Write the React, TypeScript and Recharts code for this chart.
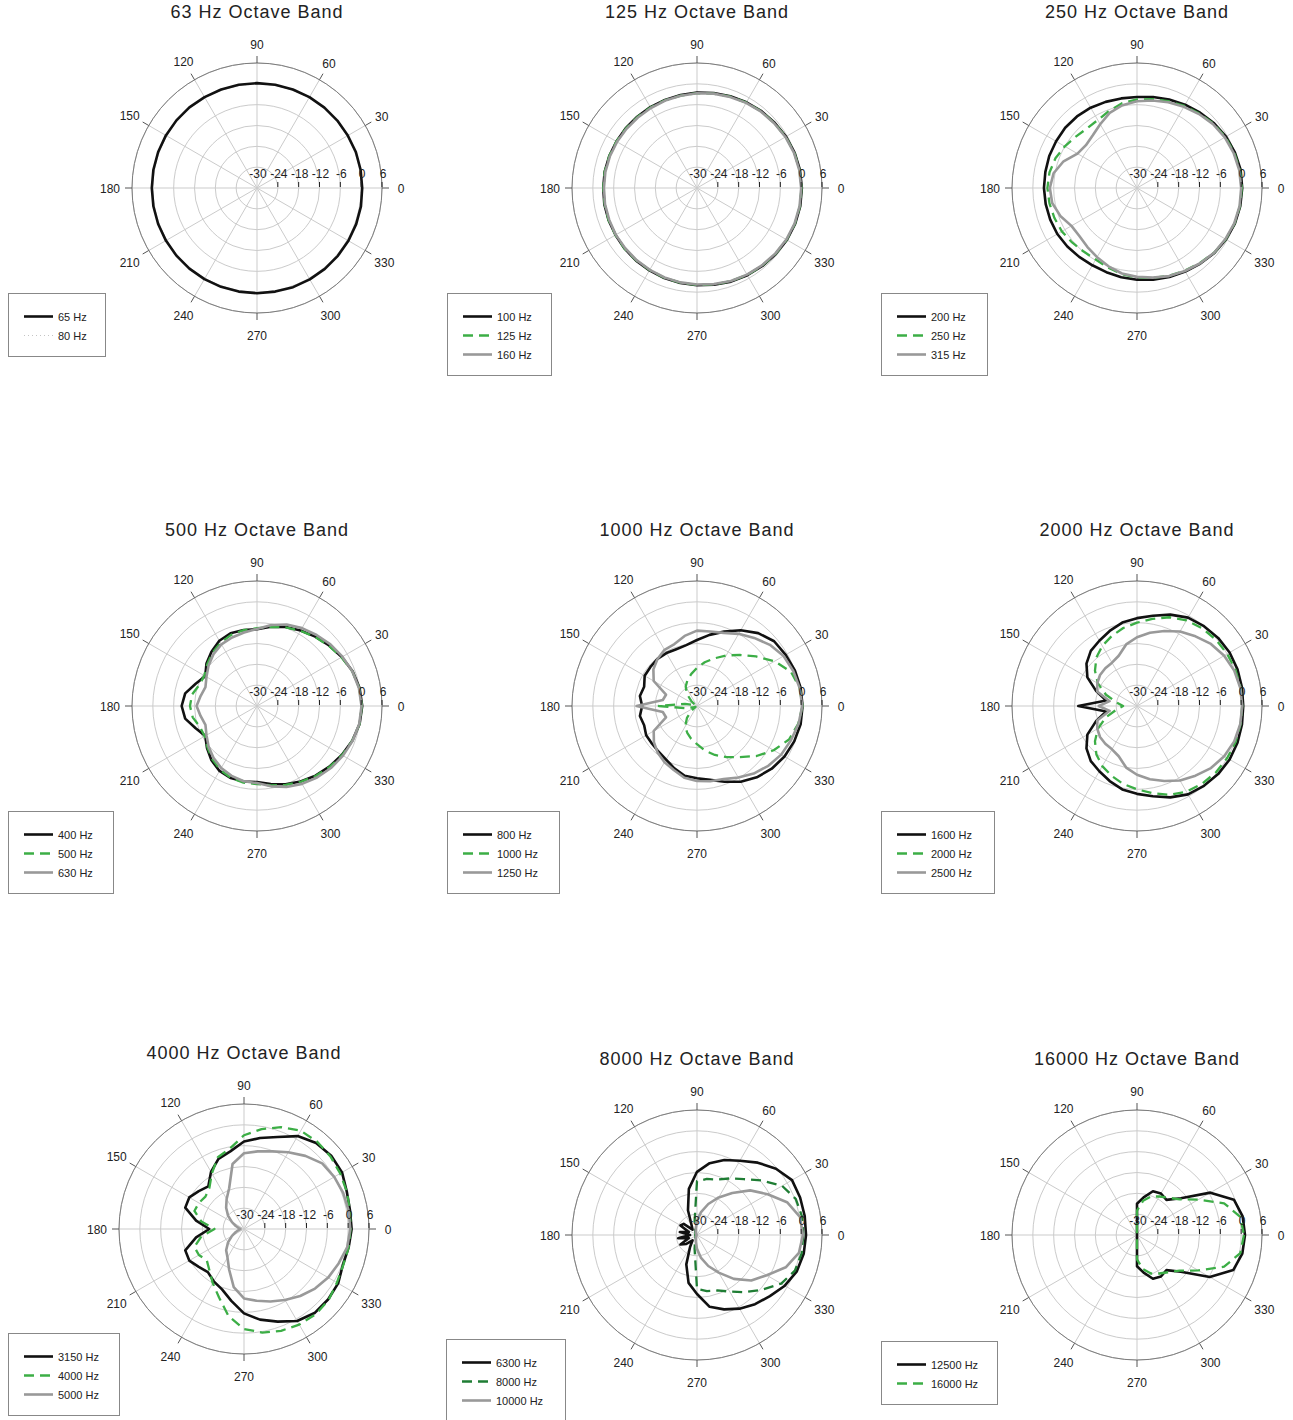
import React from 'react';
import { RadarChart, PolarGrid, PolarAngleAxis, PolarRadiusAxis, Radar } from 'recharts';

// measurement angles (deg), spokes and dB rings
const ANGLES = [
  0, 10, 20, 30, 40, 50, 60, 70, 80, 90, 100, 110,
  120, 130, 140, 150, 160, 170, 180, 190, 200, 210, 220, 230,
  240, 250, 260, 270, 280, 290, 300, 310, 320, 330, 340, 350,
];
const SPOKES = [0, 30, 60, 90, 120, 150, 180, 210, 240, 270, 300, 330];
const DB_TICKS = [-30, -24, -18, -12, -6, 0, 6];

// levels in dB, one value per entry of ANGLES
const HZ_65 = [
  0.3, 0.3, 0.3, 0.2, 0.2, 0.2, 0.2, 0.2, 0.2, 0.2, 0.2, 0.2,
  0.2, 0.3, 0.3, 0.3, 0.3, 0.3, 0.3, 0.3, 0.3, 0.3, 0.3, 0.3,
  0.3, 0.3, 0.3, 0.3, 0.3, 0.4, 0.4, 0.4, 0.4, 0.4, 0.4, 0.4,
];
const HZ_80 = [
  0.1, 0.1, 0.1, 0.0, 0.0, 0.0, 0.0, 0.0, 0.0, 0.0, 0.0, 0.0,
  0.0, 0.1, 0.1, 0.1, 0.1, 0.1, 0.1, 0.1, 0.1, 0.1, 0.1, 0.1,
  0.1, 0.1, 0.1, 0.1, 0.1, 0.2, 0.2, 0.2, 0.2, 0.2, 0.2, 0.2,
];
const HZ_100 = [
  0.2, 0.1, -0.1, -0.4, -0.8, -1.1, -1.5, -1.9, -2.2, -2.5, -2.8, -3.0,
  -3.1, -3.2, -3.2, -3.2, -3.1, -3.0, -3.0, -2.9, -2.9, -2.9, -2.8, -2.7,
  -2.6, -2.4, -2.2, -2.0, -1.7, -1.3, -1.0, -0.7, -0.4, -0.1, 0.1, 0.2,
];
const HZ_125 = [
  0.1, 0.0, -0.2, -0.5, -0.9, -1.2, -1.6, -2.0, -2.4, -2.7, -3.0, -3.1,
  -3.2, -3.3, -3.3, -3.2, -3.1, -3.0, -3.0, -3.0, -2.9, -2.9, -2.8, -2.8,
  -2.7, -2.5, -2.3, -2.1, -1.8, -1.5, -1.1, -0.8, -0.5, -0.2, 0.0, 0.1,
];
const HZ_160 = [
  0.0, -0.1, -0.3, -0.6, -1.0, -1.3, -1.7, -2.1, -2.4, -2.7, -3.0, -3.2,
  -3.4, -3.5, -3.5, -3.4, -3.3, -3.2, -3.2, -3.1, -3.1, -3.0, -3.0, -2.9,
  -2.8, -2.6, -2.4, -2.2, -1.9, -1.5, -1.2, -0.9, -0.6, -0.3, -0.1, 0.0,
];
const HZ_200 = [
  0.3, 0.3, 0.0, -0.4, -1.0, -1.7, -2.3, -2.9, -3.4, -3.8, -3.8, -3.6,
  -3.3, -3.1, -3.0, -3.1, -3.1, -3.2, -3.2, -3.3, -3.4, -3.5, -3.8, -4.1,
  -4.3, -4.2, -3.9, -3.6, -3.2, -2.7, -2.2, -1.6, -0.9, -0.4, 0.0, 0.2,
];
const HZ_250 = [
  0.2, 0.1, -0.2, -0.6, -1.2, -2.0, -2.7, -3.4, -4.0, -4.5, -5.2, -6.4,
  -7.4, -7.6, -7.0, -6.0, -5.0, -4.4, -4.2, -4.4, -4.7, -5.0, -5.6, -6.1,
  -6.2, -5.6, -4.8, -4.2, -3.7, -3.1, -2.5, -1.8, -1.0, -0.5, -0.1, 0.1,
];
const HZ_315 = [
  0.0, -0.1, -0.4, -0.8, -1.4, -2.2, -3.0, -3.7, -4.4, -5.0, -5.8, -7.0,
  -8.8, -10.2, -10.8, -10.2, -7.5, -5.6, -4.9, -5.2, -6.5, -8.2, -8.4, -7.8,
  -7.0, -6.0, -5.0, -4.4, -3.8, -3.0, -2.4, -1.7, -1.0, -0.6, -0.2, 0.0,
];
const HZ_400 = [
  0.3, 0.0, -0.7, -1.8, -2.9, -3.9, -4.9, -5.8, -6.8, -7.9, -7.8, -7.7,
  -8.3, -9.6, -11.0, -12.8, -11.2, -9.0, -8.3, -9.0, -11.2, -12.8, -11.2, -9.6,
  -8.4, -7.9, -7.9, -8.1, -7.2, -6.0, -4.9, -3.8, -2.8, -1.8, -0.8, 0.0,
];
const HZ_500 = [
  0.2, -0.1, -0.8, -1.9, -3.0, -4.0, -5.0, -5.9, -6.9, -7.6, -7.8, -8.2,
  -9.0, -10.0, -11.3, -12.5, -12.3, -11.0, -10.7, -11.2, -12.5, -12.6, -11.4, -10.0,
  -8.8, -8.0, -7.6, -7.5, -6.8, -5.8, -4.8, -3.7, -2.7, -1.7, -0.8, 0.0,
];
const HZ_630 = [
  0.1, -0.2, -0.8, -1.6, -2.4, -3.3, -4.1, -5.0, -6.3, -7.8, -8.5, -9.0,
  -9.5, -10.5, -11.8, -13.2, -14.2, -13.5, -12.6, -13.5, -14.2, -13.2, -11.8, -10.5,
  -9.4, -8.6, -8.0, -7.8, -6.5, -5.2, -4.1, -3.1, -2.2, -1.4, -0.7, -0.1,
];
const HZ_800 = [
  0.4, 0.3, 0.0, -0.5, -1.0, -2.6, -4.8, -7.2, -9.2, -11.0, -12.2, -12.6,
  -12.4, -12.3, -12.5, -12.6, -13.8, -13.3, -14.2, -13.3, -13.8, -13.1, -13.1, -12.8,
  -12.2, -10.9, -9.6, -9.2, -8.4, -6.8, -4.8, -3.2, -1.9, -0.9, -0.2, 0.3,
];
const HZ_1000 = [
  0.4, 0.0, -1.2, -4.2, -7.8, -10.8, -13.2, -15.4, -17.2, -19.0, -20.6, -22.0,
  -23.5, -25.5, -28.0, -29.5, -29.0, -26.5, -19.0, -26.5, -29.0, -29.5, -28.0, -25.5,
  -23.2, -21.8, -20.4, -19.0, -17.0, -15.0, -13.0, -10.8, -7.6, -4.5, -1.8, -0.4,
];
const HZ_1250 = [
  0.3, 0.0, -0.5, -1.2, -2.6, -4.4, -6.0, -7.6, -8.2, -8.3, -9.5, -11.0,
  -11.3, -12.3, -13.6, -15.6, -20.5, -20.0, -12.6, -20.0, -20.5, -15.6, -13.8, -12.4,
  -11.3, -10.4, -9.0, -8.4, -8.0, -7.6, -6.2, -4.6, -3.2, -2.0, -1.2, -0.3,
];
const HZ_1600 = [
  0.6, 0.7, 0.8, 0.8, 0.5, 0.0, -0.6, -2.0, -3.6, -4.7, -5.6, -7.0,
  -8.3, -9.3, -11.0, -13.5, -17.5, -21.0, -13.1, -21.0, -17.5, -13.5, -11.0, -9.3,
  -8.3, -7.0, -5.6, -4.7, -3.6, -2.0, -0.6, 0.0, 0.5, 0.8, 0.8, 0.7,
];
const HZ_2000 = [
  0.3, 0.3, 0.2, 0.0, -0.3, -0.8, -1.5, -2.8, -4.5, -6.0, -7.2, -8.6,
  -10.0, -11.8, -14.2, -17.0, -20.5, -24.0, -26.0, -24.0, -20.5, -17.0, -14.2, -11.8,
  -10.0, -8.6, -7.2, -6.0, -4.5, -2.8, -1.5, -0.8, -0.3, 0.0, 0.2, 0.3,
];
const HZ_2500 = [
  0.3, 0.2, -0.2, -1.0, -2.2, -3.8, -5.2, -7.0, -8.6, -10.2, -12.0, -14.6,
  -15.6, -15.8, -16.1, -16.8, -17.8, -22.0, -19.0, -22.0, -17.8, -16.8, -16.1, -15.8,
  -15.6, -14.6, -12.0, -10.2, -8.6, -7.0, -5.2, -3.8, -2.2, -1.0, -0.2, 0.2,
];
const HZ_3150 = [
  1.0, 1.0, 1.5, 2.6, 2.8, 2.3, 0.9, -1.8, -3.4, -4.8, -7.3, -8.5,
  -11.0, -14.0, -13.0, -11.8, -12.0, -16.0, -20.0, -16.0, -12.0, -11.8, -13.0, -13.8,
  -12.6, -11.5, -9.0, -5.7, -3.5, -1.6, 0.6, 1.6, 1.6, 1.3, 0.3, 0.6,
];
const HZ_4000 = [
  0.7, 1.0, 1.5, 2.0, 2.5, 2.8, 2.7, 1.2, -0.8, -3.0, -6.5, -8.0,
  -11.5, -14.5, -15.5, -15.0, -14.8, -17.5, -21.5, -17.5, -14.8, -15.0, -16.0, -14.5,
  -12.0, -9.0, -4.5, -1.2, 0.3, 1.2, 1.8, 2.1, 1.8, 0.9, 0.4, 0.6,
];
const HZ_5000 = [
  0.6, 0.6, 0.4, 0.0, -0.6, -2.5, -4.5, -6.2, -7.3, -8.2, -11.0, -17.5,
  -20.0, -22.0, -24.0, -26.0, -27.5, -28.5, -29.0, -28.5, -27.5, -26.0, -24.0, -22.0,
  -20.5, -17.5, -13.0, -10.0, -9.0, -7.8, -6.4, -4.8, -3.3, -2.0, -1.0, 0.2,
];
const HZ_6300 = [
  1.4, 1.5, 1.6, 1.6, -0.3, -2.8, -5.3, -7.0, -9.0, -11.8, -16.5, -22.4,
  -27.0, -28.0, -25.0, -24.5, -27.5, -25.0, -28.0, -24.5, -27.5, -24.5, -26.0, -28.0,
  -26.0, -21.0, -16.0, -13.0, -9.0, -7.2, -5.5, -4.0, -2.6, -0.8, 0.6, 1.2,
];
const HZ_8000 = [
  0.6, 0.7, 0.3, -1.7, -5.6, -9.0, -11.2, -13.0, -13.6, -14.5, -26.0, -28.5,
  -29.0, -29.3, -29.5, -29.5, -29.5, -29.5, -29.5, -29.5, -29.5, -29.5, -29.5, -29.3,
  -29.0, -28.5, -26.0, -14.5, -13.6, -13.0, -11.2, -8.5, -5.5, -2.0, 0.0, 0.6,
];
const HZ_10000 = [
  0.5, 0.1, -2.4, -6.5, -10.0, -14.2, -17.5, -20.5, -23.3, -26.0, -28.0, -29.0,
  -29.5, -29.8, -29.8, -29.8, -29.8, -29.8, -29.8, -29.8, -29.8, -29.8, -29.8, -29.8,
  -29.5, -29.0, -28.0, -26.0, -23.3, -20.5, -17.5, -13.5, -9.6, -6.8, -2.8, -0.2,
];
const HZ_12500 = [
  1.1, 0.9, -0.3, -5.6, -13.5, -16.8, -16.2, -16.6, -19.0, -21.0, -30.0, -30.0,
  -30.0, -30.0, -30.0, -30.0, -30.0, -30.0, -30.0, -30.0, -30.0, -30.0, -30.0, -30.0,
  -30.0, -30.0, -30.0, -21.0, -19.0, -16.6, -16.2, -16.8, -13.5, -5.8, -0.5, 0.8,
];
const HZ_16000 = [
  0.8, 0.2, -3.3, -9.6, -14.0, -16.0, -17.2, -18.2, -20.0, -23.0, -30.0, -30.0,
  -30.0, -30.0, -30.0, -30.0, -30.0, -30.0, -30.0, -30.0, -30.0, -30.0, -30.0, -30.0,
  -30.0, -30.0, -30.0, -23.0, -20.0, -18.2, -17.2, -16.0, -14.0, -9.6, -3.3, 0.2,
];

const FONT = '"Liberation Sans", Arial, sans-serif';
const OUTER_R = 125;

type LineStyle = { color: string; width: number; dash?: string; under?: boolean };
const BLACK: LineStyle = { color: '#111111', width: 2.6 };
const GREEN: LineStyle = { color: '#3cae46', width: 2.3, dash: '10 6' };
const DARK_GREEN: LineStyle = { color: '#1f7d34', width: 2.3, dash: '10 6' };
const GRAY: LineStyle = { color: '#999999', width: 2.6 };
const DOTTED: LineStyle = { color: '#c4c4c4', width: 1, dash: '1 3', under: true };

type Series = { name: string; values: number[]; style: LineStyle };
type Panel = {
  title: string;
  left: number;
  top: number;
  width: number;
  height: number;
  cx: number;
  cy: number;
  legend: { left: number; top: number; width: number };
  series: Series[];
};

const PANELS: Panel[] = [
  {
    title: '63 Hz Octave Band', left: 0, top: 0, width: 440, height: 400, cx: 257, cy: 188,
    legend: { left: 8, top: 293, width: 98 },
    series: [
      { name: '65 Hz', values: HZ_65, style: BLACK },
      { name: '80 Hz', values: HZ_80, style: DOTTED },
    ],
  },
  {
    title: '125 Hz Octave Band', left: 440, top: 0, width: 440, height: 400, cx: 257, cy: 188,
    legend: { left: 7, top: 293, width: 105 },
    series: [
      { name: '100 Hz', values: HZ_100, style: BLACK },
      { name: '125 Hz', values: HZ_125, style: GREEN },
      { name: '160 Hz', values: HZ_160, style: GRAY },
    ],
  },
  {
    title: '250 Hz Octave Band', left: 880, top: 0, width: 413, height: 400, cx: 257, cy: 188,
    legend: { left: 1, top: 293, width: 107 },
    series: [
      { name: '200 Hz', values: HZ_200, style: BLACK },
      { name: '250 Hz', values: HZ_250, style: GREEN },
      { name: '315 Hz', values: HZ_315, style: GRAY },
    ],
  },
  {
    title: '500 Hz Octave Band', left: 0, top: 518, width: 440, height: 400, cx: 257, cy: 188,
    legend: { left: 8, top: 293, width: 106 },
    series: [
      { name: '400 Hz', values: HZ_400, style: BLACK },
      { name: '500 Hz', values: HZ_500, style: GREEN },
      { name: '630 Hz', values: HZ_630, style: GRAY },
    ],
  },
  {
    title: '1000 Hz Octave Band', left: 440, top: 518, width: 440, height: 400, cx: 257, cy: 188,
    legend: { left: 7, top: 293, width: 113 },
    series: [
      { name: '800 Hz', values: HZ_800, style: BLACK },
      { name: '1000 Hz', values: HZ_1000, style: GREEN },
      { name: '1250 Hz', values: HZ_1250, style: GRAY },
    ],
  },
  {
    title: '2000 Hz Octave Band', left: 880, top: 518, width: 413, height: 400, cx: 257, cy: 188,
    legend: { left: 1, top: 293, width: 114 },
    series: [
      { name: '1600 Hz', values: HZ_1600, style: BLACK },
      { name: '2000 Hz', values: HZ_2000, style: GREEN },
      { name: '2500 Hz', values: HZ_2500, style: GRAY },
    ],
  },
  {
    title: '4000 Hz Octave Band', left: 0, top: 1041, width: 440, height: 379, cx: 244, cy: 188,
    legend: { left: 8, top: 292, width: 112 },
    series: [
      { name: '3150 Hz', values: HZ_3150, style: BLACK },
      { name: '4000 Hz', values: HZ_4000, style: GREEN },
      { name: '5000 Hz', values: HZ_5000, style: GRAY },
    ],
  },
  {
    title: '8000 Hz Octave Band', left: 440, top: 1047, width: 440, height: 373, cx: 257, cy: 188,
    legend: { left: 6, top: 292, width: 120 },
    series: [
      { name: '6300 Hz', values: HZ_6300, style: BLACK },
      { name: '8000 Hz', values: HZ_8000, style: DARK_GREEN },
      { name: '10000 Hz', values: HZ_10000, style: GRAY },
    ],
  },
  {
    title: '16000 Hz Octave Band', left: 880, top: 1047, width: 413, height: 373, cx: 257, cy: 188,
    legend: { left: 1, top: 294, width: 117 },
    series: [
      { name: '12500 Hz', values: HZ_12500, style: BLACK },
      { name: '16000 Hz', values: HZ_16000, style: GREEN },
    ],
  },
];

// the chart runs clockwise from 0 deg, so rows go 0, 350, 340 ... to put 90 at the top
const ORDER = ANGLES.map((_, i) => (ANGLES.length - i) % ANGLES.length);

const makeAngleTick = (cx: number, cy: number) => (props: any) => {
  const { payload } = props;
  const value = Number(payload.value);
  if (value % 30 !== 0) return <g />;
  const a = (payload.coordinate * Math.PI) / 180;
  const cos = Math.cos(a);
  const sin = Math.sin(a);
  const label = String(value);
  const rl = label.length >= 3 ? 147 : 144;
  return (
    <g>
      <line
        x1={cx + OUTER_R * cos}
        y1={cy - OUTER_R * sin}
        x2={cx + (OUTER_R + 7) * cos}
        y2={cy - (OUTER_R + 7) * sin}
        stroke="#555"
      />
      <text
        x={cx + rl * cos}
        y={cy - rl * sin + 1}
        textAnchor="middle"
        dominantBaseline="central"
        fontSize={12}
        fontFamily={FONT}
        fill="#222"
      >
        {label}
      </text>
    </g>
  );
};

const DbTick = (props: any) => {
  const { x, y, payload } = props;
  return (
    <g>
      {payload.value !== -30 && <line x1={x} y1={y - 6} x2={x} y2={y - 1} stroke="#222" />}
      <text x={x + 1} y={y - 10} textAnchor="middle" fontSize={12} fontFamily={FONT} fill="#222">
        {payload.value}
      </text>
    </g>
  );
};

const LegendBox = ({ panel }: { panel: Panel }) => (
  <div
    style={{
      position: 'absolute',
      left: panel.legend.left,
      top: panel.legend.top,
      width: panel.legend.width,
      boxSizing: 'border-box',
      border: '1px solid #888',
      padding: '13px 0 11px 15px',
      background: '#fff',
    }}
  >
    {panel.series.map((s) => (
      <div key={s.name} style={{ display: 'flex', alignItems: 'center', height: 19 }}>
        <svg width={29} height={19} style={{ display: 'block' }}>
          <line
            x1={0}
            x2={29}
            y1={9.5}
            y2={9.5}
            stroke={s.style.color}
            strokeWidth={s.style.width}
            strokeDasharray={s.style.dash}
          />
        </svg>
        <span style={{ marginLeft: 5, fontSize: 11, color: '#222', fontFamily: FONT, whiteSpace: 'nowrap' }}>
          {s.name}
        </span>
      </div>
    ))}
  </div>
);

const PolarPanel = ({ panel }: { panel: Panel }) => {
  const rows = ORDER.map((i) => {
    const row: Record<string, number> = { angle: ANGLES[i] };
    panel.series.forEach((s, k) => {
      row[`s${k}`] = s.values[i];
    });
    return row;
  });
  // faint series go underneath the others
  const drawOrder = panel.series
    .map((s, k) => ({ s, k }))
    .sort((a, b) => Number(!!b.s.style.under) - Number(!!a.s.style.under));

  return (
    <div style={{ position: 'absolute', left: panel.left, top: panel.top, width: panel.width, height: panel.height }}>
      <RadarChart
        width={panel.width}
        height={panel.height}
        data={rows}
        cx={panel.cx}
        cy={panel.cy}
        outerRadius={OUTER_R}
        startAngle={0}
        endAngle={-360}
        margin={{ top: 0, right: 0, bottom: 0, left: 0 }}
        style={{ fontFamily: FONT }}
      >
        <PolarGrid gridType="circle" polarAngles={SPOKES} stroke="#cbcbcb" />
        <PolarAngleAxis
          dataKey="angle"
          axisLineType="circle"
          axisLine={{ stroke: '#7d7d7d' }}
          tickLine={false}
          tick={makeAngleTick(panel.cx, panel.cy)}
        />
        <PolarRadiusAxis
          angle={0}
          type="number"
          domain={[-30, 6]}
          ticks={DB_TICKS}
          tickCount={DB_TICKS.length}
          axisLine={false}
          tick={DbTick}
        />
        {drawOrder.map(({ s, k }) => (
          <Radar
            key={s.name}
            name={s.name}
            dataKey={`s${k}`}
            stroke={s.style.color}
            strokeWidth={s.style.width}
            strokeDasharray={s.style.dash}
            strokeLinejoin="round"
            fill="none"
            fillOpacity={0}
            dot={false}
            isAnimationActive={false}
          />
        ))}
      </RadarChart>
      <div
        style={{
          position: 'absolute',
          left: panel.cx - 160,
          width: 320,
          top: 0,
          textAlign: 'center',
          fontSize: 18,
          letterSpacing: 1,
          lineHeight: '24px',
          color: '#222',
          fontFamily: FONT,
        }}
      >
        {panel.title}
      </div>
      <LegendBox panel={panel} />
    </div>
  );
};

export default function App() {
  return (
    <div
      style={{
        position: 'absolute',
        left: 0,
        top: 0,
        width: 1293,
        height: 1420,
        overflow: 'hidden',
        background: '#fff',
      }}
    >
      {PANELS.map((p) => (
        <PolarPanel key={p.title} panel={p} />
      ))}
    </div>
  );
}
